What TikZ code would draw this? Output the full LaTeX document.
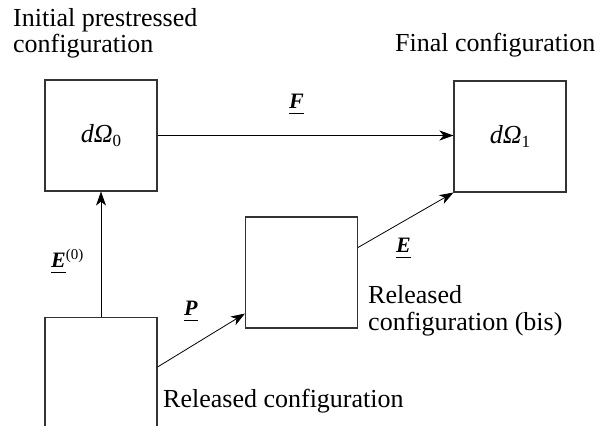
\documentclass[tikz,border=0pt]{standalone}
\usepackage{fontspec}
\setmainfont{Liberation Serif}
\usetikzlibrary{arrows.meta}
\newcommand\myul[1]{\leavevmode\vtop{\hbox{#1}\kern4.5pt\hrule height 1.3pt}}
\newcommand\mysub[1]{\raisebox{-4pt}{\fontsize{17}{17}\selectfont #1}}
\begin{document}
\begin{tikzpicture}[x=1pt,y=-1pt,
  box/.style={draw=black!80, line width=1.1pt, inner sep=0pt, minimum width=112pt, minimum height=111pt},
  conn/.style={line width=0.8pt, -{Stealth[length=14pt,width=10pt,inset=4pt]}},
  captxt/.style={font=\fontsize{26}{26.5}\selectfont, inner sep=0pt, align=left, anchor=base west},
  lab/.style={font=\fontsize{22}{22}\selectfont\bfseries\itshape, inner sep=0pt, anchor=base west},
  sym/.style={font=\fontsize{26}{26}\selectfont}]
\useasboundingbox (0,0) rectangle (601,425);
\clip (0,0) rectangle (601,425);
\node[box, sym] (A) at (101,135.5) {\textit{dΩ}\mysub{0}};
\node[box, sym] (B) at (510,136.5) {\textit{dΩ}\mysub{1}};
\node[box] (D) at (301.5,272.5) {};
\node[box, minimum height=160pt, anchor=north] (C) at (101,317) {};
\draw[conn] (A.east) -- (A.east -| B.west);
\draw[conn] (C.north) -- (A.south);
\draw[conn] ([yshift=-50pt]C.north east) -- ([yshift=15pt]D.south west);
\draw[conn] ([yshift=-31pt]D.north east) -- (B.south west);
\node[lab] (lF) at (289,108) {\myul{F}};
\node[lab] (lE0) at (51,267) {\myul{E}\raisebox{8pt}{\normalfont\fontsize{15}{15}\selectfont(0)}};
\node[lab] (lP) at (184,315) {\myul{P}};
\node[lab] (lE) at (396,252) {\myul{E}};
\node[captxt] (t1) at (13,53) {Initial prestressed\\configuration};
\node[captxt] (t2) at (395,52) {Final configuration};
\node[captxt] (t3) at (368,330) {Released\\configuration (bis)};
\node[captxt] (t4) at (163,407) {Released configuration};
\end{tikzpicture}
\end{document}
